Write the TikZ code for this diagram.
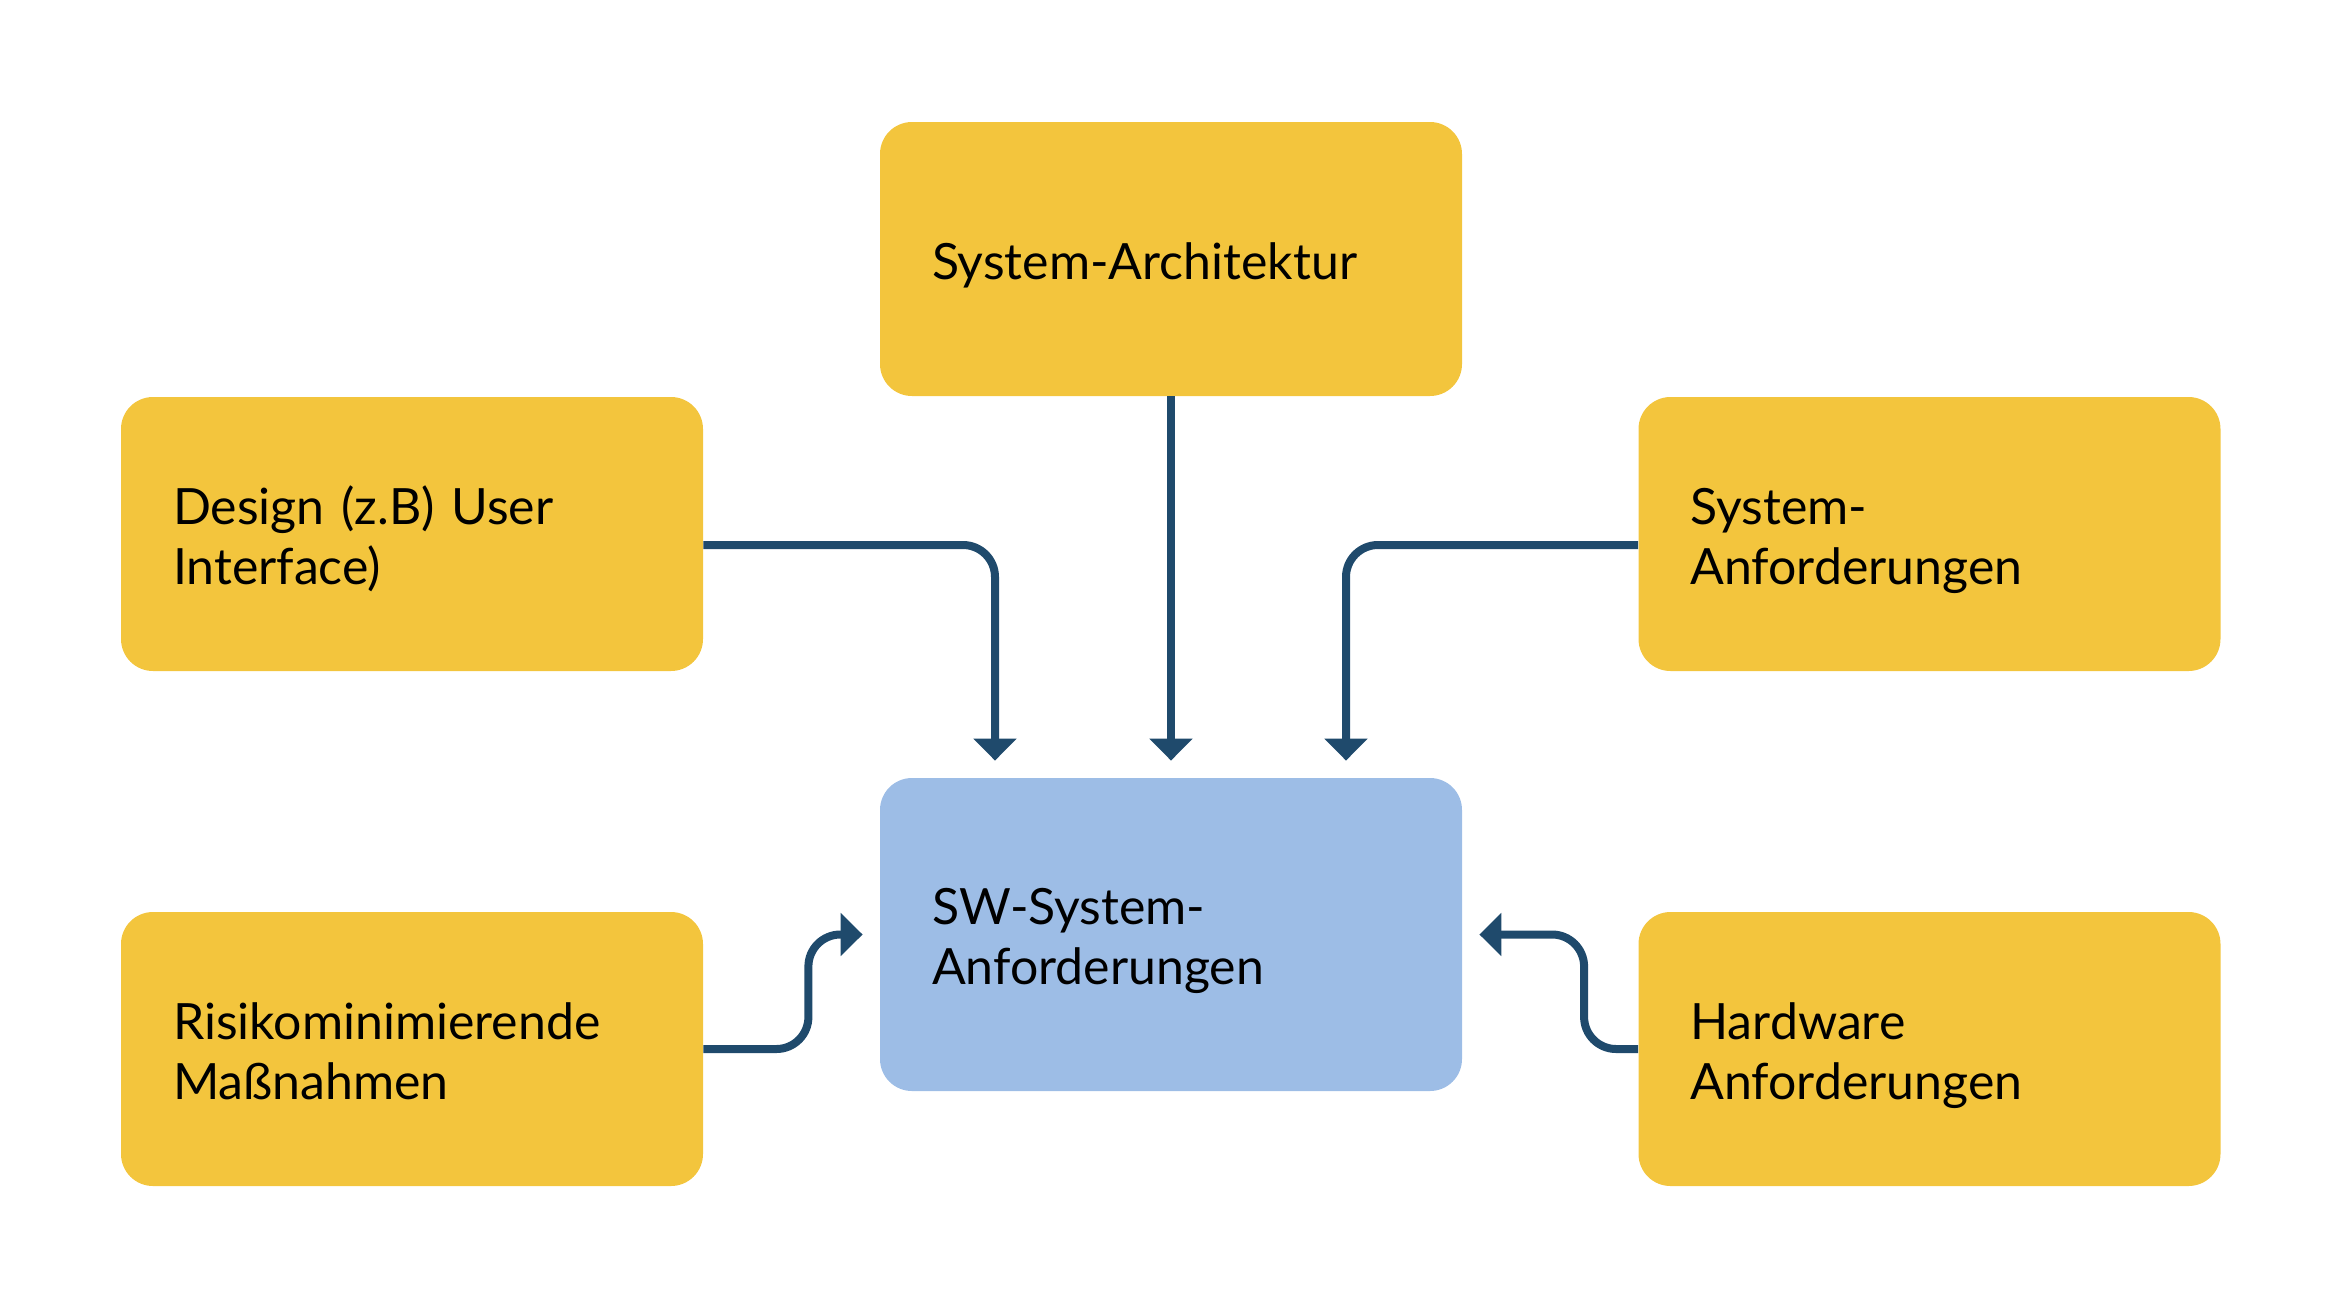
\documentclass[tikz,border=0pt]{standalone}
\usepackage{fontspec}
\setmainfont{Lato}
\usetikzlibrary{arrows.meta}
\definecolor{boxyellow}{HTML}{F3C53D}
\definecolor{boxblue}{HTML}{9DBDE6}
\definecolor{arrowblue}{HTML}{1F4A6C}
\tikzset{
  box/.style={rectangle, rounded corners=16pt, minimum width=291pt, minimum height=137pt,
    text width=239pt, inner xsep=26pt, inner ysep=0pt, align=left,
    font=\fontsize{25pt}{30pt}\selectfont, text=black,
    execute at begin node={\rule{0pt}{25pt}},
    execute at end node={\rule[-4.2pt]{0pt}{0pt}}},
  ybox/.style={box, fill=boxyellow},
  bbox/.style={box, fill=boxblue, minimum height=156.5pt},
  conn/.style={draw=arrowblue, line width=4pt, rounded corners=16pt,
    -{Triangle[width=21pt,length=11pt]}, shorten >=8.5pt}
}
\begin{document}
\begin{tikzpicture}[x=0.5pt,y=-0.5pt]
\useasboundingbox (0,0) rectangle (2342,1308);
\node[ybox] (arch) at (1171,259) {System-Architektur};
\node[ybox] (design) at (412,534) {Design (z.B) User\\Interface)};
\node[ybox] (sysan) at (1929.5,534) {System-\\Anforderungen};
\node[bbox] (center) at (1171,934.5) {SW-System-\\Anforderungen};
\node[ybox] (risk) at (412,1049) {Risikominimierende\\Maßnahmen};
\node[ybox] (hw) at (1929.5,1049) {Hardware\\Anforderungen};

\draw[conn] (arch.south) -- (center.north);
\draw[conn] ([yshift=-5.5pt]design.east) -| ([xshift=-88pt]center.north);
\draw[conn] ([yshift=-5.5pt]sysan.west) -| ([xshift=87.5pt]center.north);
\draw[conn] (risk.east) -- ++(52.5pt,0) |- (center.west);
\draw[conn] (hw.west) -- ++(-27pt,0) |- (center.east);
\end{tikzpicture}
\end{document}
